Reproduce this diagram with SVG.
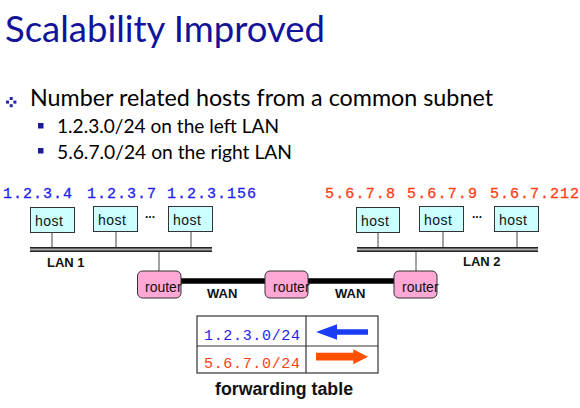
<svg xmlns="http://www.w3.org/2000/svg" width="580" height="408" viewBox="0 0 580 408">
<style>
.title{font-family:Lato,"Open Sans",sans-serif;font-size:36px;fill:#12129a}
.bul{font-family:Lato,"Open Sans",sans-serif;font-size:23px;fill:#000}
.sub{font-family:Lato,"Open Sans",sans-serif;font-size:19.5px;fill:#000}
.ip{font-family:"Liberation Mono",monospace;font-size:15px;stroke-width:0.3}
.tip{font-family:"Liberation Mono",monospace;font-size:15px}
.blue{fill:#1e1ef0;stroke:#1e1ef0}
.red{fill:#ff3d14;stroke:#ff3d14}
.tblue{fill:#1e1ef0}
.tred{fill:#ff3d14}
.host rect{fill:#ccffff;stroke:#333;stroke-width:1}
.lbl{font-family:"Liberation Sans",Arial,sans-serif;font-size:14px;fill:#111}
.router rect{fill:#ffa8d6;stroke:#333;stroke-width:1}
.bold{font-family:"Liberation Sans",Arial,sans-serif;font-weight:bold;font-size:13px;fill:#111}
.dots{font-family:"Liberation Sans",Arial,sans-serif;font-weight:bold;font-size:12px;fill:#111}
.caption{font-family:"Liberation Sans",Arial,sans-serif;font-weight:bold;font-size:18px;fill:#111}
.stem{stroke:#444;stroke-width:1}
.wan{stroke:#000;stroke-width:5.5}
.busfill{fill:#aaa}
.busline{stroke:#222;stroke-width:1.5}
.tbl{fill:none;stroke:#333;stroke-width:1.2}
</style>

<g id="heading">
<text class="title" x="5" y="42" textLength="320" lengthAdjust="spacingAndGlyphs">Scalability Improved</text>
<g fill="#2424a6">
<rect x="9.7" y="97" width="3" height="3"/>
<rect x="6" y="100.6" width="3" height="3"/>
<rect x="13.4" y="100.6" width="3" height="3"/>
<rect x="9.7" y="104.2" width="3" height="3"/>
</g>
<text class="bul" x="30" y="106" textLength="463" lengthAdjust="spacingAndGlyphs">Number related hosts from a common subnet</text>
<rect x="38" y="123" width="5.5" height="5.5" fill="#1a1a9a"/>
<text class="sub" x="57" y="133" textLength="222" lengthAdjust="spacingAndGlyphs">1.2.3.0/24 on the left LAN</text>
<rect x="38" y="148" width="5.5" height="5.5" fill="#1a1a9a"/>
<text class="sub" x="57" y="159" textLength="235" lengthAdjust="spacingAndGlyphs">5.6.7.0/24 on the right LAN</text>
</g>

<g id="ip-labels">
<text class="ip blue" x="3" y="197.5" textLength="69" lengthAdjust="spacing">1.2.3.4</text>
<text class="ip blue" x="87" y="197.5" textLength="69" lengthAdjust="spacing">1.2.3.7</text>
<text class="ip blue" x="167" y="197.5" textLength="89" lengthAdjust="spacing">1.2.3.156</text>
<text class="ip red" x="325" y="197.5" textLength="70" lengthAdjust="spacing">5.6.7.8</text>
<text class="ip red" x="407" y="197.5" textLength="70" lengthAdjust="spacing">5.6.7.9</text>
<text class="ip red" x="490" y="197.5" textLength="89" lengthAdjust="spacing">5.6.7.212</text>
</g>

<g id="connectors">
<line class="stem" x1="52" y1="232" x2="52" y2="247"/>
<line class="stem" x1="116" y1="231" x2="116" y2="247"/>
<line class="stem" x1="191" y1="231" x2="191" y2="247"/>
<line class="stem" x1="159" y1="252" x2="159" y2="271"/>
<line class="stem" x1="378" y1="232" x2="378" y2="247"/>
<line class="stem" x1="443" y1="231" x2="443" y2="247"/>
<line class="stem" x1="517" y1="231" x2="517" y2="247"/>
<line class="stem" x1="416" y1="252" x2="416" y2="271"/>
<line class="wan" x1="181" y1="281" x2="265" y2="281"/>
<line class="wan" x1="308" y1="281" x2="394" y2="281"/>
</g>

<g id="lan1">
<rect class="busfill" x="30" y="247" width="182" height="5"/>
<line class="busline" x1="30" y1="247.75" x2="212" y2="247.75"/>
<line class="busline" x1="30" y1="251.25" x2="212" y2="251.25"/>
<text class="bold" x="47" y="267">LAN 1</text>
</g>
<g id="lan2">
<rect class="busfill" x="357" y="247" width="181" height="5"/>
<line class="busline" x1="357" y1="247.75" x2="538" y2="247.75"/>
<line class="busline" x1="357" y1="251.25" x2="538" y2="251.25"/>
<text class="bold" x="463" y="266">LAN 2</text>
</g>

<g id="host-1" class="host"><rect x="30.5" y="207.5" width="44" height="25"/><text class="lbl" x="35" y="226" textLength="28">host</text></g>
<g id="host-2" class="host"><rect x="93.5" y="206.5" width="44" height="25"/><text class="lbl" x="98" y="225" textLength="28">host</text></g>
<g id="host-3" class="host"><rect x="168.5" y="206.5" width="44" height="25"/><text class="lbl" x="173" y="225" textLength="28">host</text></g>
<text class="dots" x="145" y="218">...</text>

<g id="host-4" class="host"><rect x="356.5" y="207.5" width="43" height="25"/><text class="lbl" x="361" y="226" textLength="28">host</text></g>
<g id="host-5" class="host"><rect x="419.5" y="206.5" width="44" height="25"/><text class="lbl" x="424" y="225" textLength="28">host</text></g>
<g id="host-6" class="host"><rect x="494.5" y="206.5" width="44" height="25"/><text class="lbl" x="499" y="225" textLength="28">host</text></g>
<text class="dots" x="472" y="218">...</text>

<g id="router-1" class="router"><rect x="137.5" y="271" width="43.5" height="27" rx="5"/><text class="lbl" x="145" y="292">router</text></g>
<g id="router-2" class="router"><rect x="265" y="271" width="43" height="27" rx="5"/><text class="lbl" x="273" y="292">router</text></g>
<g id="router-3" class="router"><rect x="394" y="271" width="43" height="27" rx="5"/><text class="lbl" x="402" y="292">router</text></g>

<text class="bold" x="207" y="298">WAN</text>
<text class="bold" x="335" y="298">WAN</text>

<g id="forwarding-table">
<rect class="tbl" x="197" y="316" width="181" height="57"/>
<line class="tbl" x1="197" y1="346" x2="378" y2="346"/>
<line class="tbl" x1="306" y1="316" x2="306" y2="373"/>
<text class="tip tblue" x="204" y="340" textLength="96" lengthAdjust="spacing">1.2.3.0/24</text>
<text class="tip tred" x="204" y="368" textLength="96" lengthAdjust="spacing">5.6.7.0/24</text>
<polygon fill="#1a3cf5" points="316,332 337,324.3 337,329.3 368,329.3 368,334.7 337,334.7 337,339.7"/>
<polygon fill="#ff5000" points="316,352.8 353.3,352.8 353.3,349.3 368,356.7 353.3,364.3 353.3,360.5 316,360.5"/>
<text class="caption" x="215" y="395" textLength="138" lengthAdjust="spacingAndGlyphs">forwarding table</text>
</g>
</svg>
